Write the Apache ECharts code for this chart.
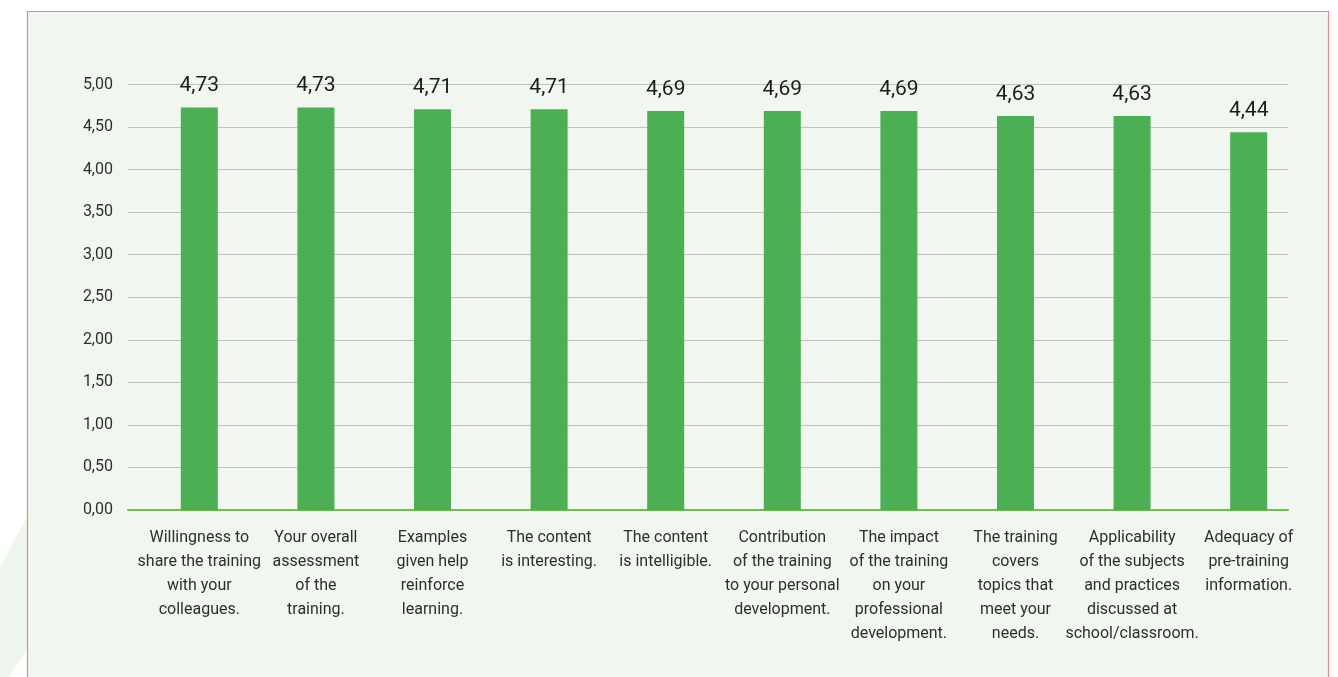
<!DOCTYPE html>
<html>
<head>
<meta charset="utf-8">
<title>Training evaluation scores</title>
<script src="https://cdn.jsdelivr.net/npm/echarts@6/dist/echarts.min.js"></script>
<style>
  html, body { margin: 0; padding: 0; background: #ffffff; }
  #chart { width: 1338px; height: 677px; }
</style>
</head>
<body>
<div id="chart"></div>
<script>
// Evaluation items (axis labels, already broken into lines)
const categories = [
  'Willingness to\nshare the training\nwith your\ncolleagues.',
  'Your overall\nassessment\nof the\ntraining.',
  'Examples\ngiven help\nreinforce\nlearning.',
  'The content\nis interesting.',
  'The content\nis intelligible.',
  'Contribution\nof the training\nto your personal\ndevelopment.',
  'The impact\nof the training\non your\nprofessional\ndevelopment.',
  'The training\ncovers\ntopics that\nmeet your\nneeds.',
  'Applicability\nof the subjects\nand practices\ndiscussed at\nschool/classroom.',
  'Adequacy of\npre-training\ninformation.'
];

// Mean score for each item (scale 0 to 5)
const scores = [4.73, 4.73, 4.71, 4.71, 4.69, 4.69, 4.69, 4.63, 4.63, 4.44];

// Value axis range
const axisMin = 0;
const axisMax = 5;
const axisStep = 0.5;

const FONT = 'Roboto, "DejaVu Sans Condensed", Arial, sans-serif';
const comma = (v, d) => Number(v).toFixed(d).replace('.', ',');

const chart = echarts.init(document.getElementById('chart'), null, { renderer: 'canvas' });

chart.setOption({
  backgroundColor: '#ffffff',
  animation: false,
  graphic: [
    // faint diagonal stripe to the left of the panel
    {
      type: 'polygon',
      z: -20,
      silent: true,
      shape: { points: [[27, 517], [0, 567], [0, 677], [9, 677], [27, 650]] },
      style: { fill: '#edf5ed' }
    },
    // light green panel with thin red frame
    {
      type: 'rect',
      z: -10,
      silent: true,
      shape: { x: 27.5, y: 11.5, width: 1301, height: 700 },
      style: { fill: '#f1f7f0', stroke: '#ec8585', lineWidth: 1.2 }
    }
  ],
  grid: [
    // grid carrying the value axis, gridlines and baseline
    { left: 128, right: 50, top: 84.5, bottom: 167, containLabel: false },
    // grid carrying the bars and category labels
    { left: 141, right: 31, top: 84.5, bottom: 167, containLabel: false }
  ],
  xAxis: [
    {
      type: 'category',
      gridIndex: 0,
      data: categories,
      axisLine: { show: true, lineStyle: { color: '#6cbf4c', width: 2 } },
      axisTick: { show: false },
      axisLabel: { show: false },
      splitLine: { show: false }
    },
    {
      type: 'category',
      gridIndex: 1,
      data: categories,
      axisLine: { show: false },
      axisTick: { show: false },
      splitLine: { show: false },
      axisLabel: {
        interval: 0,
        margin: 16,
        color: '#2e2e2e',
        fontFamily: FONT,
        fontSize: 16,
        lineHeight: 24,
        align: 'center'
      }
    }
  ],
  yAxis: [
    {
      type: 'value',
      gridIndex: 0,
      min: axisMin,
      max: axisMax,
      interval: axisStep,
      axisLine: { show: false },
      axisTick: { show: false },
      splitLine: { show: true, lineStyle: { color: '#bfc2bf', width: 1.2 } },
      axisLabel: {
        margin: 15,
        color: '#2e2e2e',
        fontFamily: FONT,
        fontSize: 16,
        formatter: v => comma(v, 2)
      }
    },
    {
      type: 'value',
      gridIndex: 1,
      min: axisMin,
      max: axisMax,
      interval: axisStep,
      show: false,
      splitLine: { show: false }
    }
  ],
  series: [
    {
      type: 'bar',
      xAxisIndex: 1,
      yAxisIndex: 1,
      data: scores,
      barWidth: 37,
      itemStyle: { color: '#4caf54' },
      label: {
        show: true,
        position: 'top',
        distance: 11,
        color: '#1c1c1c',
        fontFamily: FONT,
        fontSize: 21,
        formatter: p => comma(p.value, 2)
      }
    }
  ]
});
</script>
</body>
</html>
